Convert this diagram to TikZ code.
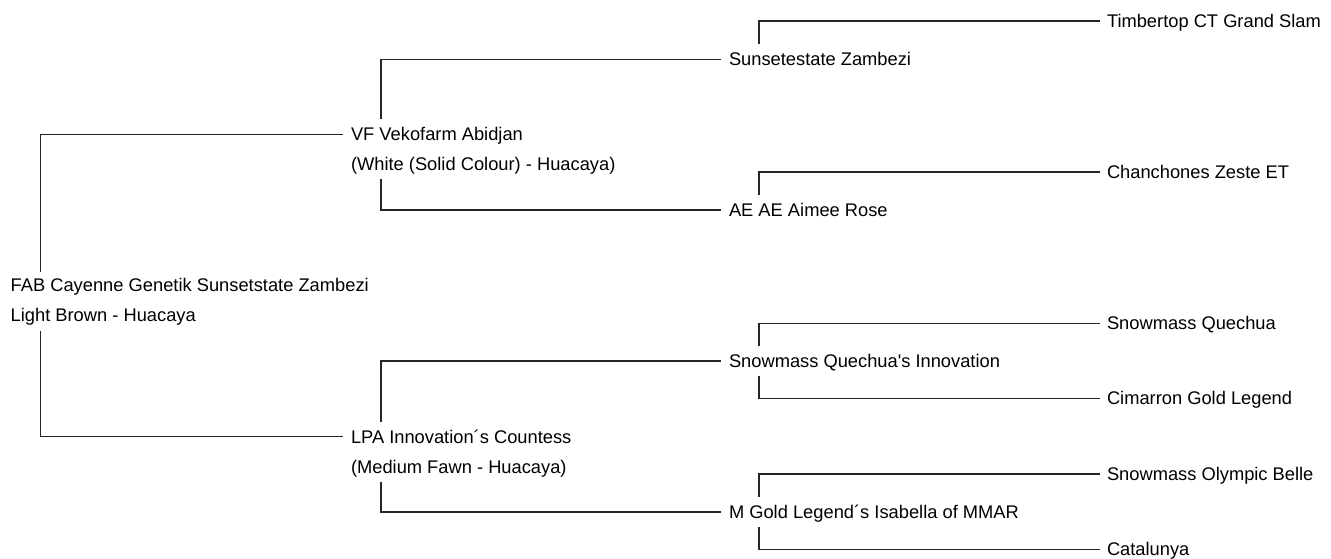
\documentclass[tikz,border=0pt]{standalone}
\usepackage{fontspec}
\setmainfont{Liberation Sans}
\usetikzlibrary{calc}
\tikzset{
  person/.style={anchor=base west, inner sep=0pt, outer sep=0pt, align=left,
    font=\fontsize{18.3}{30}\selectfont, text=black},
  link/.style={draw=black!85, line width=1.4pt}
}
\begin{document}
\begin{tikzpicture}[x=1pt,y=-1pt]
\useasboundingbox (0,0) rectangle (1331,558);
% root (base = last line baseline)
\node[person] (root) at (10.7,321) {FAB Cayenne Genetik Sunsetstate Zambezi\\Light Brown - Huacaya};
% level 2
\node[person] (vf) at (351,170.6) {VF Vekofarm Abidjan\\(White (Solid Colour) - Huacaya)};
\node[person] (lpa) at (351,473) {LPA Innovation´s Countess\\(Medium Fawn - Huacaya)};
% level 3
\node[person] (sz) at (729,65.6) {Sunsetestate Zambezi};
\node[person] (ae) at (729,216.3) {AE AE Aimee Rose};
\node[person] (sqi) at (729,367.3) {Snowmass Quechua\textquotesingle s Innovation};
\node[person] (mg) at (729,518.3) {M Gold Legend´s Isabella of MMAR};
% level 4
\node[person] (tct) at (1107,27.3) {Timbertop CT Grand Slam};
\node[person] (cz) at (1107,178.3) {Chanchones Zeste ET};
\node[person] (sq) at (1107,329.6) {Snowmass Quechua};
\node[person] (cg) at (1107,404.8) {Cimarron Gold Legend};
\node[person] (sob) at (1107,480.3) {Snowmass Olympic Belle};
\node[person] (cat) at (1107,555.8) {Catalunya};
% connectors: upper child
\draw[link] ($(root.base west)+(30,-49.3)$) |- ($(vf.base west)+(-8,-36.3)$);
\draw[link] ($(vf.base west)+(30,-51.3)$) |- ($(sz.base west)+(-8,-6.3)$);
\draw[link] ($(sz.base west)+(30,-21.3)$) |- ($(tct.base west)+(-7,-6.3)$);
\draw[link] ($(ae.base west)+(30,-21.3)$) |- ($(cz.base west)+(-7,-6.3)$);
\draw[link] ($(lpa.base west)+(30,-51.3)$) |- ($(sqi.base west)+(-8,-6.3)$);
\draw[link] ($(sqi.base west)+(30,-21.3)$) |- ($(sq.base west)+(-7,-6.3)$);
\draw[link] ($(mg.base west)+(30,-21.3)$) |- ($(sob.base west)+(-7,-6.3)$);
% connectors: lower child
\draw[link] ($(root.base west)+(30,9.7)$) |- ($(lpa.base west)+(-8,-36.3)$);
\draw[link] ($(vf.base west)+(30,8.7)$) |- ($(ae.base west)+(-8,-6.3)$);
\draw[link] ($(lpa.base west)+(30,8.7)$) |- ($(mg.base west)+(-8,-6.3)$);
\draw[link] ($(sqi.base west)+(30,8.7)$) |- ($(cg.base west)+(-7,-6.3)$);
\draw[link] ($(mg.base west)+(30,8.7)$) |- ($(cat.base west)+(-7,-6.3)$);
\end{tikzpicture}
\end{document}
